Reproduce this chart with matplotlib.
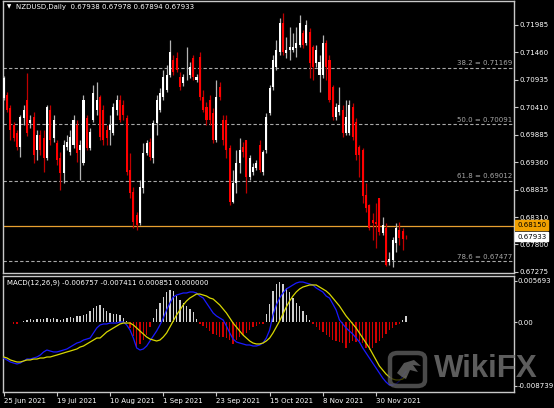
import matplotlib
matplotlib.use("Agg")
import matplotlib.pyplot as plt
from matplotlib.patches import FancyBboxPatch, Polygon
import numpy as np

# ---- daily NZDUSD candles (25 Jun 2021 .. 13 Dec 2021) ----
opens = [0.70591,0.70648,0.70400,0.70076,0.69923,0.69656,0.70209,0.70553,0.70114,0.70228,
0.69598,0.69885,0.69828,0.69446,0.70362,0.69828,0.69732,0.69446,0.69159,0.69656,
0.69560,0.69694,0.70076,0.69598,0.69350,0.70209,0.69637,0.70171,0.70362,0.70610,
0.70362,0.69980,0.69980,0.69923,0.70362,0.70553,0.70458,0.70209,0.69217,0.68797,
0.68358,0.68205,0.68873,0.69541,0.69751,0.69446,0.70114,0.70362,0.70610,0.70744,
0.71030,0.71317,0.71355,0.70992,0.70878,0.70973,0.71030,0.71355,0.70935,0.71374,
0.70610,0.70419,0.70553,0.70305,0.69789,0.70801,0.70171,0.70171,0.69637,0.68606,
0.68969,0.69350,0.69656,0.69789,0.69083,0.69179,0.69255,0.69694,0.69179,0.69598,
0.70305,0.70801,0.71183,0.71469,0.72023,0.71450,0.71507,0.71507,0.71546,0.71603,
0.71832,0.71641,0.71851,0.71565,0.71259,0.71030,0.71030,0.71641,0.71317,0.70801,
0.70228,0.70324,0.70362,0.69923,0.69923,0.70419,0.70133,0.69656,0.69598,0.68739,
0.68549,0.68262,0.68224,0.68682,0.68014,0.68109,0.67460,0.67499,0.67823,0.68071,
0.68052,0.67938]
highs = [0.71011,0.70706,0.70458,0.70133,0.69980,0.70267,0.70458,0.71068,0.70267,0.70324,
0.69980,0.69980,0.69980,0.70458,0.70458,0.70267,0.69789,0.69560,0.69789,0.69885,
0.69980,0.70267,0.70171,0.69789,0.70648,0.70267,0.70018,0.70839,0.70897,0.70648,
0.70458,0.70076,0.70267,0.70496,0.70648,0.70648,0.70553,0.70267,0.69541,0.68892,
0.68415,0.69026,0.69732,0.69789,0.69828,0.70171,0.70648,0.70782,0.71126,0.71221,
0.71698,0.71412,0.71469,0.71088,0.71049,0.71565,0.71278,0.71412,0.71049,0.71469,
0.70744,0.70515,0.70648,0.70400,0.70935,0.70897,0.70267,0.70267,0.69694,0.69217,
0.69598,0.69828,0.69751,0.69789,0.69503,0.69350,0.69408,0.69789,0.69598,0.70305,
0.70839,0.71412,0.71698,0.72118,0.72214,0.71756,0.71947,0.71832,0.71947,0.72176,
0.71889,0.72080,0.71927,0.71603,0.71603,0.71412,0.71794,0.71698,0.71412,0.70839,
0.70496,0.70801,0.70458,0.70553,0.70553,0.70496,0.70209,0.69694,0.69637,0.68969,
0.68568,0.68396,0.68587,0.68682,0.68319,0.68205,0.67651,0.67938,0.68205,0.68224,
0.68109,0.67978]
lows = [0.70553,0.70324,0.69789,0.69770,0.69598,0.69465,0.70076,0.69866,0.70018,0.69350,
0.69408,0.69503,0.69179,0.69408,0.69694,0.69751,0.69312,0.68835,0.68969,0.69598,
0.69503,0.69637,0.69369,0.69026,0.69312,0.69598,0.69598,0.70133,0.70267,0.69789,
0.69694,0.69694,0.69694,0.69885,0.70267,0.70133,0.70171,0.69121,0.68682,0.68109,
0.68071,0.68167,0.68778,0.69503,0.69408,0.69350,0.69885,0.70324,0.70553,0.70706,
0.70992,0.71030,0.71088,0.70744,0.70820,0.70935,0.70973,0.70935,0.70897,0.70553,
0.70324,0.70076,0.70076,0.69732,0.69751,0.70553,0.69694,0.69446,0.68549,0.68587,
0.68778,0.69159,0.69465,0.68778,0.69026,0.69121,0.69217,0.69179,0.69121,0.69541,
0.70267,0.70744,0.71126,0.71412,0.71412,0.71355,0.71317,0.71469,0.71374,0.71565,
0.71546,0.71603,0.70973,0.70935,0.71183,0.70706,0.70973,0.70935,0.70515,0.70171,
0.70171,0.70267,0.69847,0.69885,0.69885,0.69789,0.69408,0.69083,0.68587,0.68415,
0.68071,0.67880,0.67728,0.67976,0.67976,0.67384,0.67403,0.67365,0.67651,0.67785,
0.67689,0.67894]
closes = [0.70973,0.70362,0.69980,0.69828,0.69656,0.70228,0.70362,0.69923,0.70171,0.69503,
0.69885,0.69598,0.69446,0.70419,0.69789,0.70171,0.69408,0.69159,0.69694,0.69751,
0.69847,0.70171,0.69541,0.69694,0.70553,0.69637,0.69942,0.70687,0.70553,0.69847,
0.69789,0.69828,0.70076,0.70419,0.70553,0.70171,0.70267,0.69179,0.68778,0.68224,
0.68167,0.68892,0.69541,0.69732,0.69465,0.70114,0.70553,0.70687,0.70992,0.71030,
0.71469,0.71088,0.71126,0.70801,0.70992,0.70973,0.71183,0.70992,0.70992,0.70610,
0.70362,0.70171,0.70171,0.69789,0.70610,0.70610,0.69789,0.69598,0.68606,0.68969,
0.69350,0.69598,0.69560,0.69083,0.69446,0.69274,0.69350,0.69217,0.69560,0.70228,
0.70782,0.71317,0.71507,0.72023,0.71469,0.71507,0.71565,0.71565,0.71641,0.72023,
0.71603,0.71985,0.71259,0.71183,0.71507,0.71278,0.71641,0.71183,0.70553,0.70228,
0.70419,0.70458,0.69923,0.70228,0.70458,0.69847,0.69503,0.69503,0.68720,0.68491,
0.68109,0.68205,0.68186,0.68033,0.68167,0.67403,0.67518,0.67880,0.68109,0.67919,
0.67899,0.67933]

# ---- MACD(12,26,9) panel values ----
macd = [-0.00491,-0.00518,-0.00546,-0.00560,-0.00573,-0.00560,-0.00532,-0.00505,-0.00505,-0.00491,
-0.00477,-0.00450,-0.00408,-0.00381,-0.00395,-0.00408,-0.00408,-0.00395,-0.00381,-0.00367,
-0.00340,-0.00312,-0.00285,-0.00271,-0.00244,-0.00230,-0.00216,-0.00147,-0.00078,-0.00037,
-0.00023,-0.00023,-0.00010,-0.00010,-0.00010,0.00004,0.00004,-0.00037,-0.00106,-0.00216,
-0.00353,-0.00381,-0.00367,-0.00326,-0.00257,-0.00188,-0.00120,-0.00037,0.00059,0.00169,
0.00265,0.00348,0.00375,0.00389,0.00403,0.00403,0.00417,0.00417,0.00403,0.00361,
0.00334,0.00265,0.00197,0.00128,0.00087,0.00059,0.00032,-0.00051,-0.00147,-0.00230,
-0.00271,-0.00285,-0.00298,-0.00312,-0.00312,-0.00326,-0.00326,-0.00312,-0.00285,-0.00216,
-0.00106,0.00100,0.00238,0.00334,0.00403,0.00458,0.00485,0.00513,0.00540,0.00554,
0.00554,0.00540,0.00527,0.00513,0.00472,0.00444,0.00417,0.00361,0.00334,0.00252,
0.00169,0.00032,-0.00023,-0.00078,-0.00120,-0.00161,-0.00216,-0.00271,-0.00353,-0.00422,
-0.00491,-0.00560,-0.00628,-0.00697,-0.00766,-0.00821,-0.00862,-0.00862,-0.00848,-0.00807,
-0.00738,-0.006757]
signal = [-0.00477,-0.00491,-0.00518,-0.00532,-0.00546,-0.00546,-0.00532,-0.00518,-0.00518,-0.00505,
-0.00505,-0.00491,-0.00491,-0.00477,-0.00477,-0.00463,-0.00450,-0.00436,-0.00422,-0.00408,
-0.00395,-0.00381,-0.00367,-0.00340,-0.00326,-0.00298,-0.00271,-0.00244,-0.00216,-0.00216,
-0.00175,-0.00133,-0.00106,-0.00078,-0.00051,-0.00023,-0.00010,-0.00010,-0.00010,-0.00037,
-0.00078,-0.00120,-0.00161,-0.00202,-0.00230,-0.00244,-0.00257,-0.00244,-0.00202,-0.00147,
-0.00065,0.00018,0.00100,0.00169,0.00238,0.00293,0.00334,0.00361,0.00389,0.00389,
0.00375,0.00361,0.00334,0.00320,0.00279,0.00238,0.00183,0.00128,0.00059,-0.00010,
-0.00065,-0.00120,-0.00175,-0.00216,-0.00257,-0.00285,-0.00298,-0.00298,-0.00285,-0.00257,
-0.00216,-0.00147,-0.00065,0.00018,0.00114,0.00210,0.00293,0.00361,0.00417,0.00458,
0.00485,0.00499,0.00513,0.00513,0.00513,0.00485,0.00458,0.00430,0.00389,0.00334,
0.00279,0.00224,0.00155,0.00087,0.00032,-0.00023,-0.00078,-0.00147,-0.00216,-0.00285,
-0.00353,-0.00436,-0.00518,-0.00601,-0.00656,-0.00711,-0.00752,-0.00780,-0.00793,-0.00793,
-0.00780,-0.007411]
hist = [-0.0002,0.0,0.0,-0.0003,-0.0003,0.0001,0.0002,0.0003,0.0004,0.0003,
0.0005,0.0004,0.0005,0.0006,0.0005,0.0006,0.0004,0.0003,0.0004,0.0006,
0.0007,0.0006,0.0008,0.0009,0.0010,0.0012,0.0016,0.0020,0.0022,0.0024,
0.0019,0.0016,0.0013,0.0012,0.0011,0.0010,0.0006,0.0002,-0.0008,-0.0019,
-0.0034,-0.0030,-0.0024,-0.0018,-0.0006,0.0006,0.0018,0.0027,0.0035,0.0041,
0.0045,0.0043,0.0036,0.0030,0.0026,0.0022,0.0018,0.0014,0.0005,-0.0003,
-0.0005,-0.0008,-0.0012,-0.0016,-0.0018,-0.0020,-0.0020,-0.0022,-0.0024,-0.0030,
-0.0024,-0.0020,-0.0018,-0.0015,-0.0011,-0.0007,-0.0005,-0.0003,-0.0002,0.0012,
0.0025,0.0043,0.0053,0.0055,0.0052,0.0047,0.0041,0.0034,0.0027,0.0022,
0.0015,0.0010,0.0003,-0.0002,-0.0007,-0.0010,-0.0014,-0.0017,-0.0020,-0.0024,
-0.0026,-0.0027,-0.0028,-0.0035,-0.0029,-0.0026,-0.0027,-0.0026,-0.0029,-0.0035,
-0.0038,-0.0035,-0.0029,-0.0026,-0.0022,-0.0016,-0.0011,-0.0008,-0.0004,-0.0002,
0.0003,0.000851]

price_ticks = [0.71985,0.71460,0.70935,0.70410,0.69885,0.69360,0.68835,0.68310,0.67800,0.67275]
macd_ticks = [0.005693, 0.0, -0.008739]
macd_tick_labels = ["0.005693", "0.00", "-0.008739"]
date_idx = [0,16,32,48,64,80,96,112]
date_labels = ["25 Jun 2021","19 Jul 2021","10 Aug 2021","1 Sep 2021","23 Sep 2021",
               "15 Oct 2021","8 Nov 2021","30 Nov 2021"]
fib_levels = [0.71169, 0.70091, 0.69012, 0.67477]
fib_names = ["38.2", "50.0", "61.8", "78.6"]
hline_price = 0.68150
last_price = 0.67933
header = "NZDUSD,Daily  0.67938 0.67978 0.67894 0.67933"
macd_header = "MACD(12,26,9) -0.006757 -0.007411 0.000851 0.000000"

W, H = 554, 408
FONT = "DejaVu Sans"
FS = 5.0
fig = plt.figure(figsize=(W/100, H/100), dpi=100, facecolor="black")

def fxy(px, py):
    return px / W, 1 - py / H

opens, highs, lows, closes = map(np.array, (opens, highs, lows, closes))
n = len(opens)
idx = np.arange(n)
frame = "#c8c8c8"

ax = fig.add_axes([3/W, 1-273/H, 511/W, 272/H], facecolor="black")
axm = fig.add_axes([3/W, 1-392/H, 511/W, 116/H], facecolor="black")
for a in (ax, axm):
    a.set_xlim(-0.21, 153.5)
    for s in a.spines.values():
        s.set_color(frame); s.set_linewidth(1.0)
    a.tick_params(colors=frame, labelcolor="white", labelsize=FS, length=3, width=0.8)
    a.yaxis.tick_right()
ax.set_ylim(0.67250, 0.72443)
axm.set_ylim(-0.009584, 0.006366)

# candles
up = closes >= opens
body_lo = np.minimum(opens, closes)
body_h = np.maximum(np.abs(closes - opens), 0.00004)
wick_col = np.where(up, "#b4b4b4", "#c00000")
ax.vlines(idx, lows, highs, colors=wick_col, linewidth=0.9, zorder=3)
ax.bar(idx, body_h, bottom=body_lo, width=0.62, color=np.where(up, "#ffffff", "#ff0000"),
       linewidth=0, zorder=4)

# fibonacci levels
for lv, nm in zip(fib_levels, fib_names):
    ax.axhline(lv, color="#a8a8a8", lw=0.8, ls=(0, (3, 2)), zorder=2)
    ax.text(153.0, lv + 0.00025, f"{nm} = {lv:.5f}", color="#a8a8a8", fontsize=FS,
            ha="right", va="bottom", family=FONT)
ax.axhline(hline_price, color="#e8a030", lw=0.9, zorder=2)

ax.set_yticks(price_ticks)
ax.set_yticklabels([f"{p:.5f}" for p in price_ticks], family=FONT)
ax.set_xticks([])
ax.tick_params(axis="y", pad=1)

# MACD
hist_arr = np.array(hist)
axm.bar(idx, hist_arr, width=0.4, color=np.where(hist_arr >= 0, "#d0d0d0", "#d00000"),
        linewidth=0, zorder=2)
axm.plot(idx, macd, color="#1a1aff", lw=0.9, zorder=3)
axm.plot(idx, signal, color="#d8d800", lw=0.9, zorder=3)
axm.set_yticks(macd_ticks)
axm.set_yticklabels(macd_tick_labels, family=FONT)
axm.tick_params(axis="y", pad=0, length=2.5)
axm.set_xticks(date_idx)
axm.set_xticklabels(date_labels, family=FONT, ha="left")
axm.tick_params(axis="x", pad=1.5)

# price boxes on the scale
fig.text(517/W, 1-225/H, f"{hline_price:.5f}", color="black", fontsize=FS, family=FONT, va="center",
         bbox=dict(boxstyle="square,pad=0.25", fc="#f0a000", ec="#f0a000"))
fig.text(517/W, 1-236.5/H, f"{last_price:.5f}", color="black", fontsize=FS, family=FONT, va="center",
         bbox=dict(boxstyle="square,pad=0.25", fc="white", ec="white"))

# headers
fig.text(*fxy(9, 7), "\u25BC", color="white", fontsize=4, ha="center", va="center", family=FONT)
fig.text(*fxy(16, 7), header, color="white", fontsize=FS, va="center", family=FONT)
fig.text(*fxy(7, 283), macd_header, color="white", fontsize=FS, va="center", family=FONT)

# watermark
logo = FancyBboxPatch((390/W, 1-386/H), 35/W, 33/H, boxstyle="round,pad=0,rounding_size=0.014",
                      transform=fig.transFigure, fc="#000000", ec="#6a6a6a", lw=3.2,
                      alpha=0.7, zorder=10)
fig.patches.append(logo)
bird = Polygon([fxy(397, 373), fxy(404, 363), fxy(414, 360), fxy(421, 366), fxy(413, 365),
                fxy(418, 372), fxy(410, 370), fxy(406, 379), fxy(402, 377)],
               closed=True, transform=fig.transFigure, fc="#6a6a6a", ec="none", alpha=0.8, zorder=11)
fig.patches.append(bird)
fig.text(*fxy(434, 369), "WikiFX", color="#6e6e6e", alpha=0.85, fontsize=22.5, fontweight="bold",
         va="center", family="Liberation Sans", zorder=10)

fig.savefig("out.png", dpi=100, facecolor="black")
